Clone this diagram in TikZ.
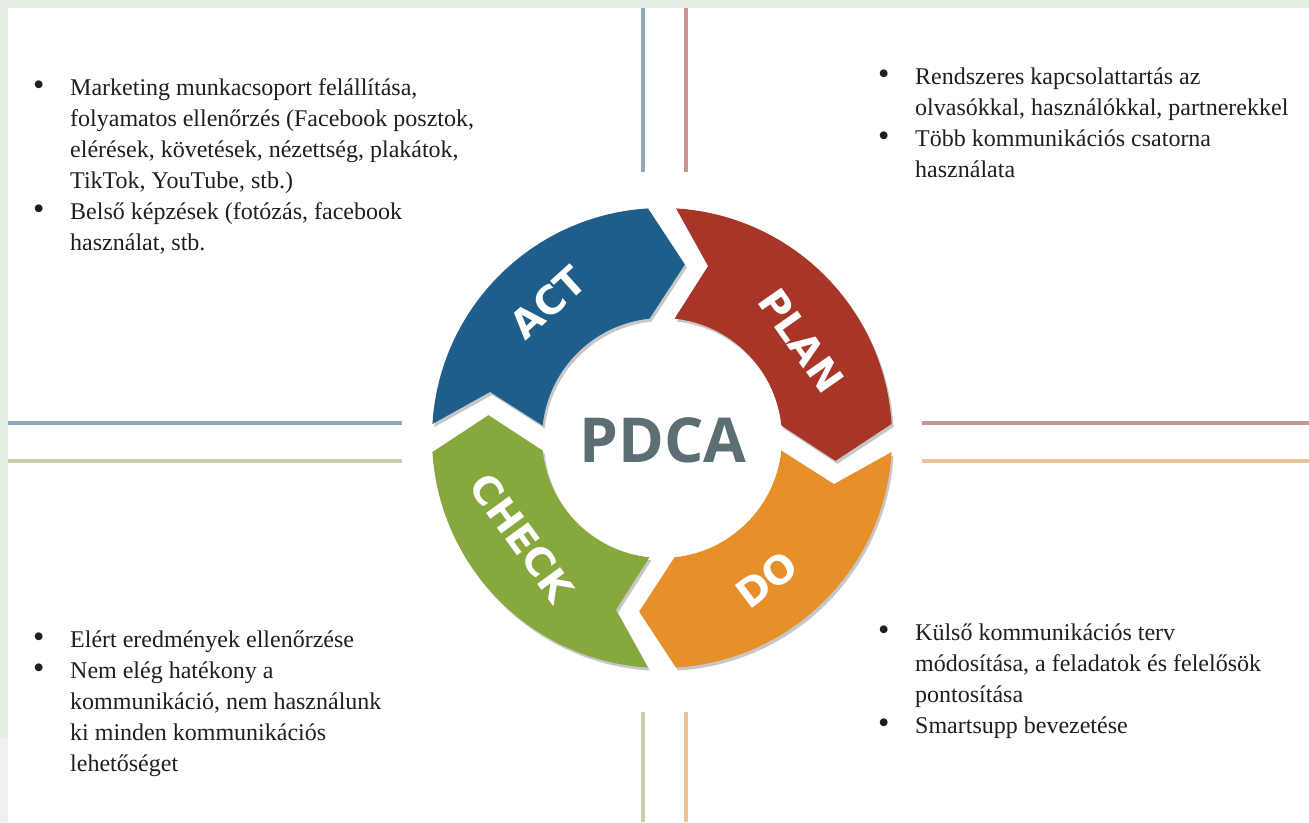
\documentclass[tikz,border=0pt]{standalone}
\usepackage{fontspec}
\setmainfont{Liberation Serif}
\newfontfamily\notefont{Liberation Serif}
\newfontfamily\lblfont{DejaVu Sans}
\newfontfamily\hubfont{Open Sans}
\usepackage{array}
\definecolor{actblue}{RGB}{31,94,138}
\definecolor{planred}{RGB}{168,54,40}
\definecolor{doorange}{RGB}{231,143,40}
\definecolor{checkgreen}{RGB}{134,168,60}
\definecolor{hubgray}{RGB}{92,110,114}
\definecolor{frame}{RGB}{227,239,224}
\definecolor{ruleblue}{RGB}{143,168,188}
\definecolor{rulegreen}{RGB}{196,208,165}
\definecolor{rulered}{RGB}{202,150,145}
\definecolor{ruleorange}{RGB}{234,196,150}
\tikzset{
    lbl/.style={font=\lblfont\bfseries\fontsize{39}{39}\selectfont, text=white, inner sep=0pt},
    hub/.style={font=\hubfont\bfseries\fontsize{62}{62}\selectfont, text=hubgray, inner sep=0pt},
    note/.style={font=\notefont\fontsize{24}{31}\selectfont, text=black!88, inner sep=0pt, anchor=base west},
    rule/.style={line width=4pt}
}
\newcommand{\dotitem}{\scalebox{1.35}{\textbullet}}
% one arrow piece of the wheel: tail angle, head angle, colour
\newcommand{\pdcapiece}[3]{%
    \fill[#3] (#1-3.5:230) arc[start angle=#1-3.5, end angle=#2+3.5, radius=230]
        -- (#2-7.5:175) -- (#2+6:120) arc[start angle=#2+6, end angle=#1-6, radius=120]
        -- (#1-15:178) -- cycle;}

\begin{document}
\begin{tikzpicture}[x=1pt, y=1pt]
    \useasboundingbox (0,0) rectangle (1309,822);
    \fill[frame] (0,0) rectangle (1309,822);
    \fill[black!6] (0,0) rectangle (8,85);
    \fill[white] (8,0) rectangle (1309,814);

    % cross of thin lines
    \draw[rule, ruleblue] (643,814) -- (643,650);
    \draw[rule, rulered] (686,814) -- (686,650);
    \draw[rule, rulegreen] (643,110) -- (643,0);
    \draw[rule, ruleorange] (686,110) -- (686,0);
    \draw[rule, ruleblue] (8,399) -- (402,399);
    \draw[rule, rulegreen] (8,361) -- (402,361);
    \draw[rule, rulered] (922,399) -- (1309,399);
    \draw[rule, ruleorange] (922,361) -- (1309,361);

    % the wheel
    \begin{scope}[shift={(662,384)}]
        \begin{scope}[shift={(2,-3)}]
            \foreach \ta/\hd in {180/90, 90/0, 0/-90, -90/-180}
                {\pdcapiece{\ta}{\hd}{black!22}}
        \end{scope}
        \pdcapiece{180}{90}{actblue}
        \pdcapiece{90}{0}{planred}
        \pdcapiece{0}{-90}{doorange}
        \pdcapiece{-90}{-180}{checkgreen}
        \node[lbl, rotate=42] (act) at (130:177) {ACT};
        \node[lbl, rotate=-55] (plan) at (35:170) {PLAN};
        \node[lbl, rotate=37] (do) at (-53.5:176) {DO};
        \node[lbl, rotate=-54] (check) at (-144.5:172) {CHECK};
        \node[hub, anchor=base] (pdca) at (1,-25) {PDCA};
    \end{scope}

    % notes
    \node[note] (actnote) at (33,726) {\begin{tabular}[t]{@{}p{37pt}@{}l@{}}
        \dotitem & Marketing munkacsoport felállítása,\\
        & folyamatos ellenőrzés (Facebook posztok,\\
        & elérések, követések, nézettség, plakátok,\\
        & TikTok, YouTube, stb.)\\
        \dotitem & Belső képzések (fotózás, facebook\\
        & használat, stb.
    \end{tabular}};
    \node[note] (plannote) at (878,737) {\begin{tabular}[t]{@{}p{37pt}@{}l@{}}
        \dotitem & Rendszeres kapcsolattartás az\\
        & olvasókkal, használókkal, partnerekkel\\
        \dotitem & Több kommunikációs csatorna\\
        & használata
    \end{tabular}};
    \node[note] (checknote) at (33,174) {\begin{tabular}[t]{@{}p{37pt}@{}l@{}}
        \dotitem & Elért eredmények ellenőrzése\\
        \dotitem & Nem elég hatékony a\\
        & kommunikáció, nem használunk\\
        & ki minden kommunikációs\\
        & lehetőséget
    \end{tabular}};
    \node[note] (donote) at (878,181) {\begin{tabular}[t]{@{}p{37pt}@{}l@{}}
        \dotitem & Külső kommunikációs terv\\
        & módosítása, a feladatok és felelősök\\
        & pontosítása\\
        \dotitem & Smartsupp bevezetése
    \end{tabular}};
\end{tikzpicture}
\end{document}
